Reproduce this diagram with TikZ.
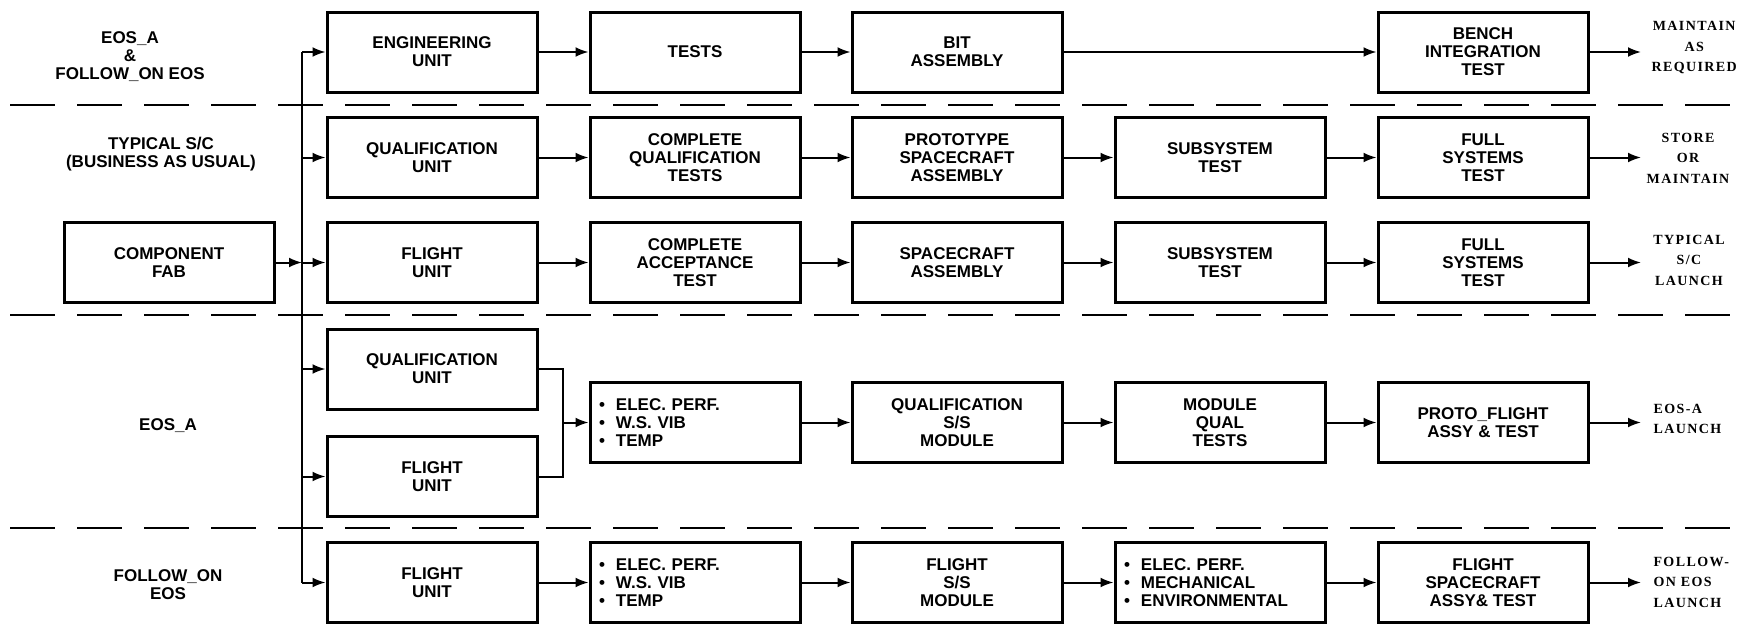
\documentclass[tikz,border=0pt]{standalone}
\usepackage{fontspec}
\setmainfont{Liberation Sans}
\newfontfamily\labserif[LetterSpace=10]{Liberation Serif}
\usetikzlibrary{arrows.meta}
\newcommand\bxfont{\fontsize{17}{18}\selectfont\bfseries}
\newcommand\outfont{\labserif\fontsize{14}{20.5}\selectfont\bfseries}
\newcommand\bul{\textbullet\hspace{11pt}}
\begin{document}
\begin{tikzpicture}[x=1pt,y=-1pt,
  box/.style={draw,line width=3pt,minimum width=210pt,minimum height=80pt,align=center,inner sep=0pt,font=\bxfont},
  bulbox/.style={box,align=left,text width=192pt,inner xsep=9pt},
  conn/.style={line width=2pt,-{Latex[length=13pt,width=10pt]}},
  plain/.style={line width=2pt},
  sep/.style={line width=2.8pt,dash pattern=on 45pt off 22pt},
  lbl/.style={align=center,font=\bxfont},
  outlbl/.style={font=\outfont}]
\useasboundingbox (0,0) rectangle (1738,624);
% separators
\draw[sep] (10,105) -- (1738,105);
\draw[sep] (10,315) -- (1738,315);
\draw[sep] (10,528) -- (1738,528);
% row 1
\node[box] (e1) at (432,52) {ENGINEERING\\UNIT};
\node[box] (e2) at (695,52) {TESTS};
\node[box] (e3) at (957,52) {BIT\\ASSEMBLY};
\node[box] (e5) at (1483,52) {BENCH\\INTEGRATION\\TEST};
% row 2
\node[box] (q1) at (432,157.5) {QUALIFICATION\\UNIT};
\node[box] (q2) at (695,157.5) {COMPLETE\\QUALIFICATION\\TESTS};
\node[box] (q3) at (957,157.5) {PROTOTYPE\\SPACECRAFT\\ASSEMBLY};
\node[box] (q4) at (1220,157.5) {SUBSYSTEM\\TEST};
\node[box] (q5) at (1483,157.5) {FULL\\SYSTEMS\\TEST};
% row 3
\node[box] (cf) at (169,262.5) {COMPONENT\\FAB};
\node[box] (f1) at (432,262.5) {FLIGHT\\UNIT};
\node[box] (f2) at (695,262.5) {COMPLETE\\ACCEPTANCE\\TEST};
\node[box] (f3) at (957,262.5) {SPACECRAFT\\ASSEMBLY};
\node[box] (f4) at (1220,262.5) {SUBSYSTEM\\TEST};
\node[box] (f5) at (1483,262.5) {FULL\\SYSTEMS\\TEST};
% row 4
\node[box] (aq) at (432,369) {QUALIFICATION\\UNIT};
\node[box] (af) at (432,476.5) {FLIGHT\\UNIT};
\node[bulbox] (a2) at (695,422.5) {\bul ELEC. PERF.\\\bul W.S. VIB\\\bul TEMP};
\node[box] (a3) at (957,422.5) {QUALIFICATION\\S/S\\MODULE};
\node[box] (a4) at (1220,422.5) {MODULE\\QUAL\\TESTS};
\node[box] (a5) at (1483,422.5) {PROTO\_FLIGHT\\ASSY \& TEST};
% row 5
\node[box] (b1) at (432,582.5) {FLIGHT\\UNIT};
\node[bulbox] (b2) at (695,582.5) {\bul ELEC. PERF.\\\bul W.S. VIB\\\bul TEMP};
\node[box] (b3) at (957,582.5) {FLIGHT\\S/S\\MODULE};
\node[bulbox] (b4) at (1220,582.5) {\bul ELEC. PERF.\\\bul MECHANICAL\\\bul ENVIRONMENTAL};
\node[box] (b5) at (1483,582.5) {FLIGHT\\SPACECRAFT\\ASSY\& TEST};
% left labels
\node[lbl] (l1) at (130,57) {EOS\_A\\\&\\FOLLOW\_ON EOS};
\node[lbl] (l2) at (161,154) {TYPICAL S/C\\(BUSINESS AS USUAL)};
\node[lbl] (l3) at (168,426) {EOS\_A};
\node[lbl] (l4) at (168,585) {FOLLOW\_ON\\EOS};
% right labels
\node[outlbl,anchor=west,align=center] (r1) at (1648,48) {MAINTAIN\\AS\\REQUIRED};
\node[outlbl,align=center] (r2) at (1688,158) {STORE\\OR\\MAINTAIN};
\node[outlbl,align=center] (r3) at (1689,260) {TYPICAL\\S/C\\LAUNCH};
\node[outlbl,anchor=west,align=left] (r4) at (1650,419) {EOS-A\\LAUNCH};
\node[outlbl,anchor=west,align=left] (r5) at (1650,582) {FOLLOW-\\ON EOS\\LAUNCH};
% bus
\coordinate (s1) at (302,52);
\coordinate (s2) at (302,157.5);
\coordinate (s3) at (302,262.5);
\coordinate (s4) at (302,369);
\coordinate (s5) at (302,476.5);
\coordinate (s6) at (302,582.5);
\draw[plain] (s1) -- (s6);
\draw[conn] (cf.east) -- (s3);
\draw[conn] (s1) -- (e1.west);
\draw[conn] (s2) -- (q1.west);
\draw[conn] (s3) -- (f1.west);
\draw[conn] (s4) -- (aq.west);
\draw[conn] (s5) -- (af.west);
\draw[conn] (s6) -- (b1.west);
% row 1 flow
\draw[conn] (e1) -- (e2);
\draw[conn] (e2) -- (e3);
\draw[conn] (e3) -- (e5);
% row 2 flow
\draw[conn] (q1) -- (q2);
\draw[conn] (q2) -- (q3);
\draw[conn] (q3) -- (q4);
\draw[conn] (q4) -- (q5);
% row 3 flow
\draw[conn] (f1) -- (f2);
\draw[conn] (f2) -- (f3);
\draw[conn] (f3) -- (f4);
\draw[conn] (f4) -- (f5);
% row 4 flow
\coordinate (m) at (563,422.5);
\draw[plain] (aq.east) -- (aq.east -| m) -- (af.east -| m) -- (af.east);
\draw[conn] (m) -- (a2.west);
\draw[conn] (a2) -- (a3);
\draw[conn] (a3) -- (a4);
\draw[conn] (a4) -- (a5);
% row 5 flow
\draw[conn] (b1) -- (b2);
\draw[conn] (b2) -- (b3);
\draw[conn] (b3) -- (b4);
\draw[conn] (b4) -- (b5);
% outputs
\coordinate (o1) at (1641,52);
\coordinate (o2) at (1641,157.5);
\coordinate (o3) at (1641,262.5);
\coordinate (o4) at (1641,422.5);
\coordinate (o5) at (1641,582.5);
\draw[conn] (e5.east) -- (o1);
\draw[conn] (q5.east) -- (o2);
\draw[conn] (f5.east) -- (o3);
\draw[conn] (a5.east) -- (o4);
\draw[conn] (b5.east) -- (o5);
\end{tikzpicture}
\end{document}
